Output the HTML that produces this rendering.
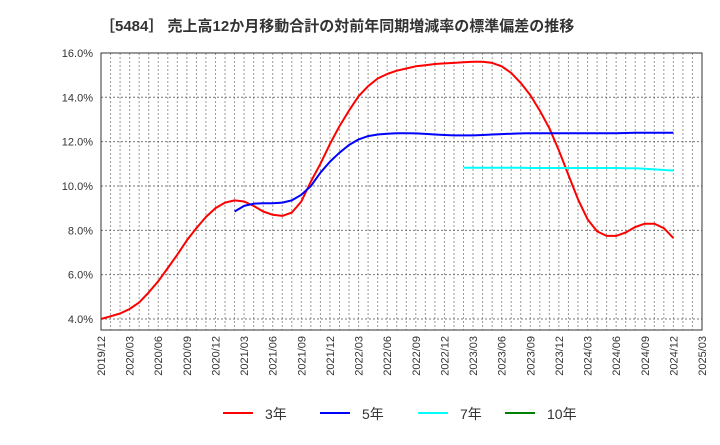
<!DOCTYPE html>
<html><head><meta charset="utf-8"><style>
body{margin:0;background:#fff;font-family:"Liberation Sans","Noto Sans CJK JP",sans-serif;}
</style></head><body>
<svg width="720" height="440" xmlns="http://www.w3.org/2000/svg" id="chart">
<text x="100" y="31" font-size="15" font-weight="bold" fill="#333" font-family="Liberation Sans, Noto Sans CJK JP, sans-serif">［5484］ 売上高12か月移動合計の対前年同期増減率の標準偏差の推移</text>
<g id="grid"></g><g id="axes"></g><g id="series"></g><g id="legend"></g>
</svg>
<script>
const yTicks=[4,6,8,10,12,14,16];
const xLabels=["2019/12","2020/03","2020/06","2020/09","2020/12","2021/03","2021/06","2021/09","2021/12","2022/03","2022/06","2022/09","2022/12","2023/03","2023/06","2023/09","2023/12","2024/03","2024/06","2024/09","2024/12","2025/03"];
const s3Start=0;
const s3=[4.0,4.12,4.25,4.45,4.75,5.2,5.7,6.3,6.9,7.55,8.1,8.6,9.0,9.25,9.35,9.3,9.1,8.85,8.7,8.65,8.8,9.3,10.2,11.0,11.9,12.7,13.4,14.05,14.5,14.85,15.05,15.2,15.3,15.4,15.45,15.5,15.53,15.55,15.58,15.6,15.6,15.55,15.4,15.1,14.65,14.1,13.4,12.6,11.6,10.5,9.4,8.5,7.95,7.75,7.75,7.9,8.15,8.3,8.3,8.1,7.65];
const s5Start=14;
const s5=[8.85,9.1,9.2,9.22,9.22,9.25,9.35,9.6,10.0,10.6,11.1,11.5,11.85,12.1,12.25,12.32,12.36,12.38,12.38,12.37,12.35,12.32,12.3,12.28,12.28,12.28,12.3,12.32,12.34,12.36,12.37,12.38,12.38,12.38,12.38,12.38,12.38,12.38,12.38,12.38,12.38,12.39,12.4,12.4,12.4,12.4,12.4];
const s7Start=38;
const s7=[10.82,10.82,10.82,10.82,10.82,10.82,10.82,10.81,10.81,10.81,10.81,10.81,10.81,10.81,10.81,10.81,10.81,10.8,10.8,10.78,10.75,10.72,10.7];
const s10Start=0;
const s10=[];
const NS="http://www.w3.org/2000/svg";
const L=101,R=702,T=53,B=330,nMonths=63;
const yMin=3.5,yMax=16;
function xs(m){return L+(R-L)*m/nMonths;}
function ys(v){return 319+(4-v)*22.17;}
function mk(tag,attrs,parent){const e=document.createElementNS(NS,tag);for(const k in attrs)e.setAttribute(k,attrs[k]);document.getElementById(parent).appendChild(e);return e;}
// vertical monthly grid
for(let m=1;m<nMonths;m++){
 const g=mk('line',{x1:xs(m),x2:xs(m),y1:T,y2:B,stroke:'#999','stroke-dasharray':'2,2','stroke-width':1},'grid');
 
 
}
yTicks.forEach(v=>{
 const g=mk('line',{x1:L,x2:R,y1:ys(v),y2:ys(v),stroke:'#777','stroke-dasharray':'2,2','stroke-width':1},'grid');
 
 
 const t=mk('text',{x:93,y:ys(v)+4,'text-anchor':'end','font-size':11,fill:'#333'},'axes');
 t.textContent=v.toFixed(1)+'%';
 
 
});
const fr=mk('rect',{x:L,y:T,width:R-L,height:B-T,fill:'none',stroke:'#333','stroke-width':1},'axes');


xLabels.forEach((lab,i)=>{
 const x=xs(i*3);
 const t=mk('text',{x:0,y:0,transform:`translate(${x+4},336) rotate(-90)`,'text-anchor':'end','font-size':11,fill:'#333'},'axes');
 t.textContent=lab;
 
 
});
function line(arr,start,color,name){
 if(!arr.length)return;
 const d=arr.map((v,i)=>(i?'L':'M')+xs(start+i).toFixed(1)+','+ys(v).toFixed(1)).join(' ');
 const p=mk('path',{d:d,fill:'none',stroke:color,'stroke-width':2,'stroke-linejoin':'round'},'series');
 
 
}
line(s3,s3Start,'#ff0000','series-3yr');
line(s5,s5Start,'#0000ff','series-5yr');
line(s7,s7Start,'#00ffff','series-7yr');
line(s10,s10Start,'#008000','series-10yr');
const leg=[['3年','#ff0000',223],['5年','#0000ff',320],['7年','#00ffff',418],['10年','#008000',505]];
leg.forEach(([lab,c,x])=>{
 const l=mk('line',{x1:x,x2:x+30,y1:413,y2:413,stroke:c,'stroke-width':2},'legend');
 
 
 const t=mk('text',{x:x+42,y:419,'font-size':14,fill:'#333'},'legend');
 t.textContent=lab;
 
 
});
</script>
</body></html>
